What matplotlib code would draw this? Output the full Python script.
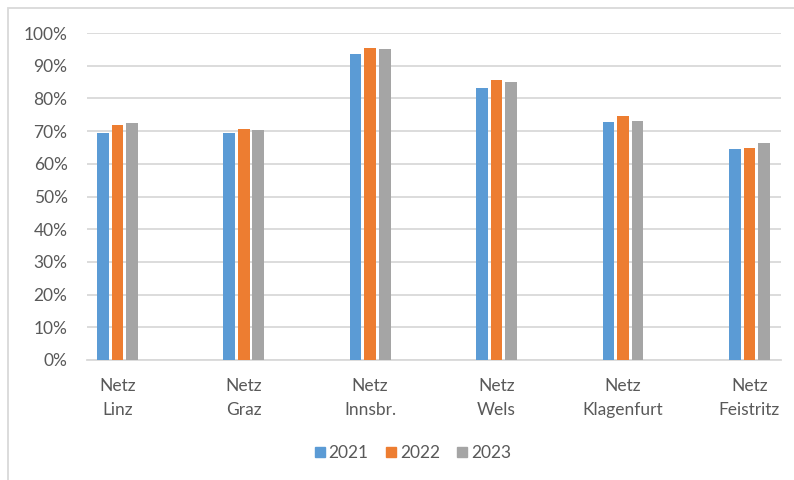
import numpy as np
import matplotlib.pyplot as plt
from matplotlib.patches import Rectangle

plt.rcParams['font.family'] = ['Lato', 'DejaVu Sans']

netze = ['Netz\nLinz', 'Netz\nGraz', 'Netz\nInnsbr.', 'Netz\nWels', 'Netz\nKlagenfurt', 'Netz\nFeistritz']
jahre = ['2021', '2022', '2023']
werte_2021 = [0.695, 0.695, 0.936, 0.831, 0.727, 0.646]
werte_2022 = [0.718, 0.705, 0.954, 0.857, 0.746, 0.649]
werte_2023 = [0.724, 0.702, 0.951, 0.850, 0.731, 0.665]
farben = ['#5B9BD5', '#ED7D31', '#A5A5A5']

fig = plt.figure(figsize=(7.94, 4.8), dpi=100)
ax = fig.add_axes([87 / 794, 0.25, (781 - 87) / 794, (360 - 33) / 480])

x = np.arange(len(netze))
breite = 0.092
schritt = 0.115
for i, (werte, jahr) in enumerate(zip([werte_2021, werte_2022, werte_2023], jahre)):
    ax.bar(x + (i - 1) * schritt, werte, width=breite, color=farben[i], label=jahr, zorder=3)

ax.set_xlim(-0.24, 5.25)
ax.set_ylim(0, 1)
ax.set_yticks(np.arange(0, 1.01, 0.1))
ax.set_yticklabels([f'{int(round(v * 100))}%' for v in np.arange(0, 1.01, 0.1)])
ax.set_xticks(x)
ax.set_xticklabels(netze, linespacing=1.6)

ax.grid(axis='y', color='#D9D9D9', linewidth=1.3, zorder=0)
for s in ['top', 'right', 'left']:
    ax.spines[s].set_visible(False)
ax.spines['bottom'].set_color('#D9D9D9')
ax.spines['bottom'].set_linewidth(1.3)
ax.tick_params(axis='both', length=0, colors='#595959', labelsize=12.5)
ax.tick_params(axis='y', pad=14)
ax.tick_params(axis='x', pad=13)

handles = [plt.Line2D([], [], marker='s', linestyle='', color=c, markersize=7.5) for c in farben]
fig.legend(handles, jahre, loc='center', bbox_to_anchor=(412 / 794, 1 - 453 / 480), ncol=3,
           frameon=False, fontsize=12.5, labelcolor='#595959', handletextpad=0.1, columnspacing=0.9,
           handlelength=0.8)

# Rahmen des Diagrammbereichs
fig.patches.append(Rectangle((8 / 794, -0.1), 1.0, 1 - 8 / 480 + 0.1, transform=fig.transFigure,
                             fill=False, edgecolor='#D9D9D9', linewidth=1.3))

fig.savefig('out.png', dpi=100)
